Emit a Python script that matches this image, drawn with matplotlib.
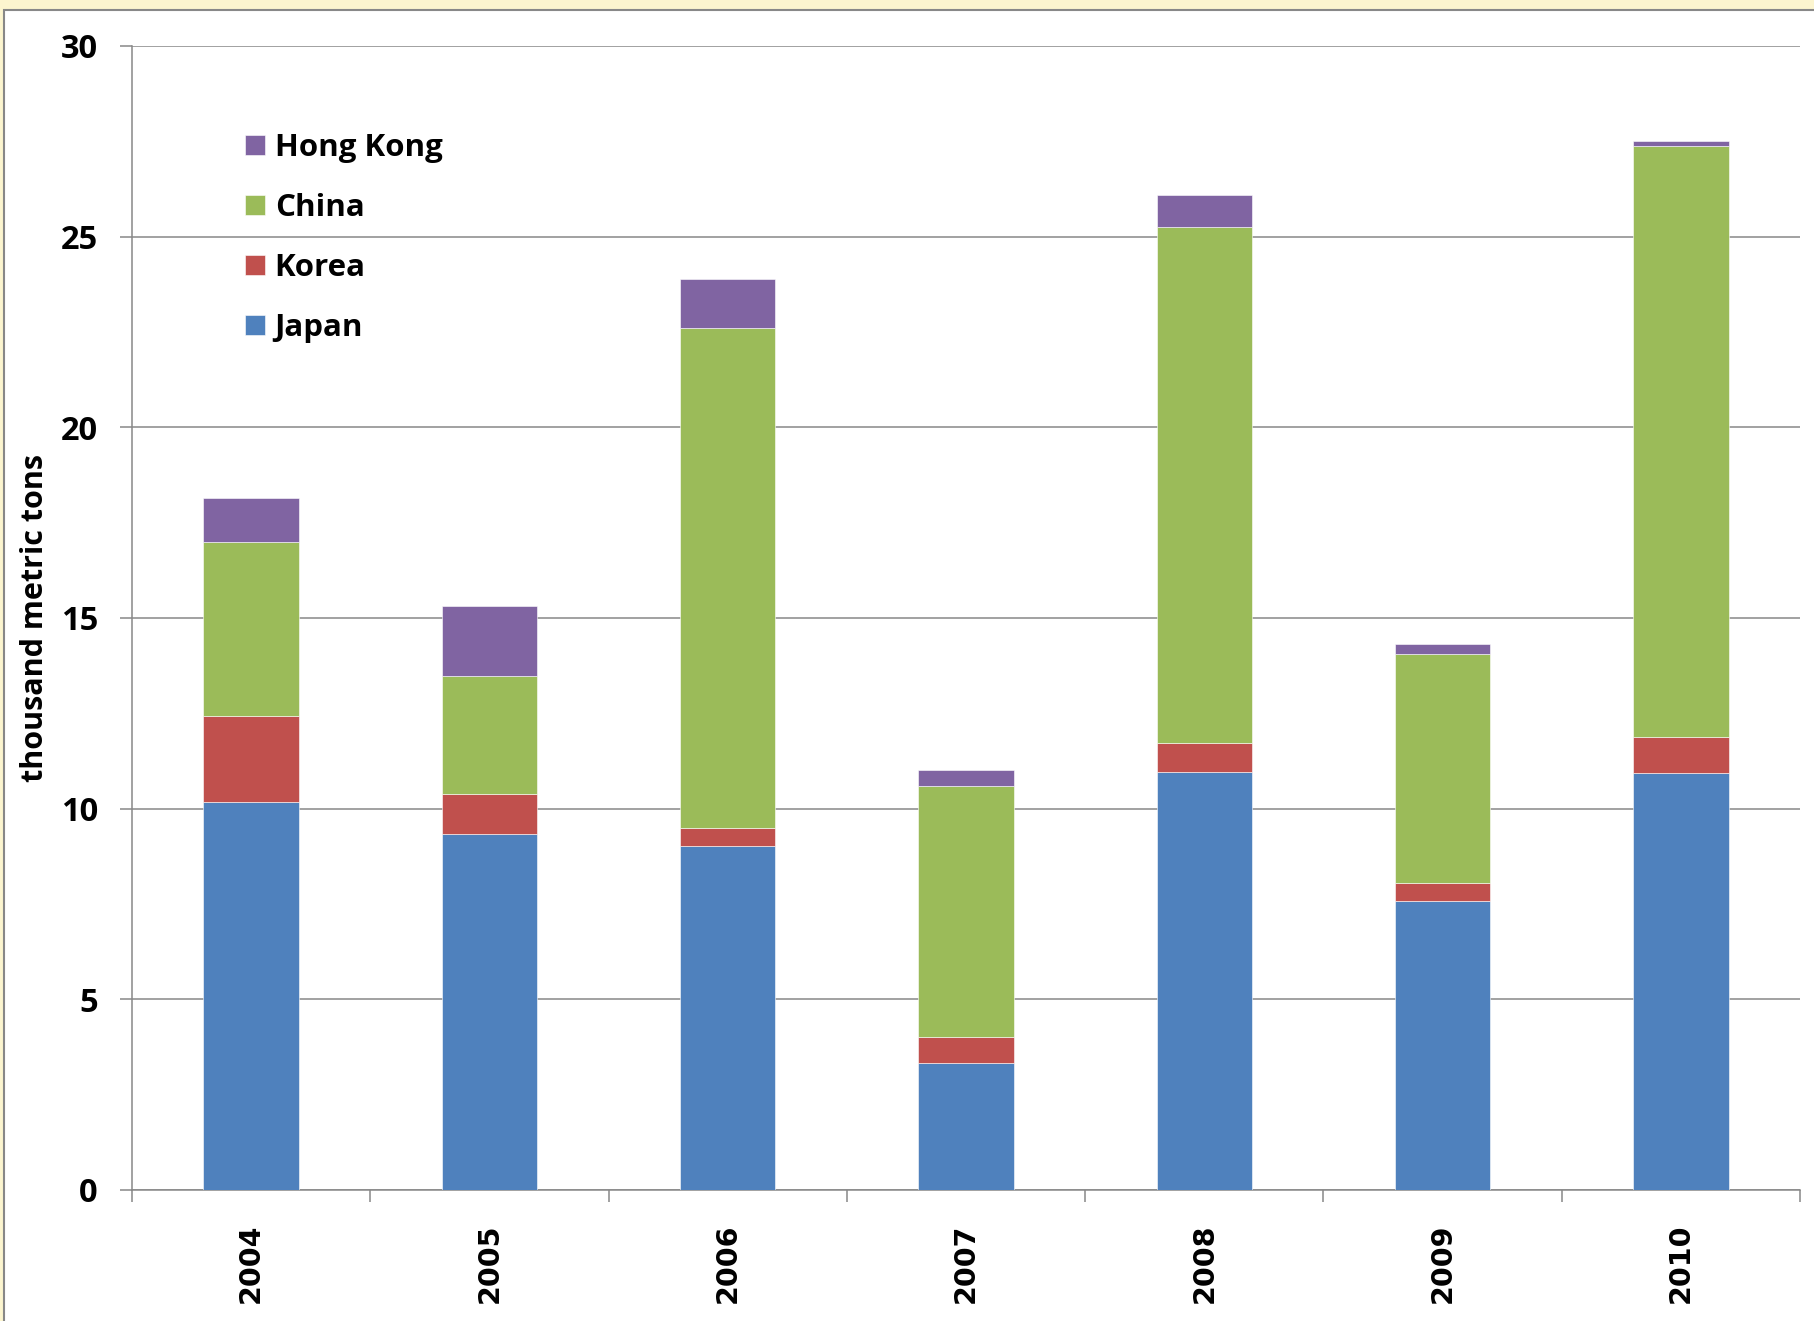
import numpy as np
import matplotlib
matplotlib.use('Agg')
import matplotlib.pyplot as plt
from matplotlib.patches import Rectangle

plt.rcParams['font.family'] = ['Open Sans', 'DejaVu Sans']

# data (thousand metric tons)
years = ['2004', '2005', '2006', '2007', '2008', '2009', '2010']
japan = [10.18, 9.34, 9.03, 3.32, 10.96, 7.57, 10.93]
korea = [2.26, 1.05, 0.46, 0.68, 0.75, 0.47, 0.94]
china = [4.54, 3.09, 13.11, 6.60, 13.55, 6.02, 15.50]
hong_kong = [1.16, 1.83, 1.30, 0.41, 0.84, 0.26, 0.15]

series = [('Japan', japan, '#4F81BD'),
          ('Korea', korea, '#C0504D'),
          ('China', china, '#9BBB59'),
          ('Hong Kong', hong_kong, '#8064A2')]

W, H = 1814, 1321
fig = plt.figure(figsize=(W / 100, H / 100), dpi=100)
fig.patch.set_facecolor('#FCF5CF')

# white chart panel with grey border
panel = Rectangle((4 / W, -0.01), 1.0, 1 - 10 / H + 0.01, transform=fig.transFigure,
                  facecolor='white', edgecolor='#888888', linewidth=1.5, zorder=-10)
fig.patches.append(panel)

ax = fig.add_axes([132 / W, 1 - 1190 / H, (1800 - 132) / W, (1190 - 46) / H])
ax.set_facecolor('none')

x = np.arange(len(years))
bottom = np.zeros(len(years))
handles = []
for name, vals, col in series:
    b = ax.bar(x, vals, 0.4, bottom=bottom, color=col, edgecolor='white',
               linewidth=0.4, label=name, zorder=3)
    handles.append(b)
    bottom += np.array(vals)

ax.set_xlim(-0.5, len(years) - 0.5)
ax.set_ylim(0, 30)
ax.set_yticks(range(0, 31, 5))
ax.yaxis.grid(True, color='#888888', linewidth=1.1, zorder=0)
ax.set_axisbelow(True)

for s in ['top', 'right']:
    ax.spines[s].set_visible(False)
for s in ['left', 'bottom']:
    ax.spines[s].set_color('#888888')
    ax.spines[s].set_linewidth(1.1)

ax.tick_params(axis='y', direction='out', length=8.6, width=1.1, color='#888888',
               pad=16, labelsize=23.5)
for lab in ax.get_yticklabels():
    lab.set_fontweight('bold')

# category labels at centres, tick marks at category boundaries
ax.set_xticks(x)
ax.set_xticklabels(years, rotation=90, fontsize=20.5, fontweight='bold',
                   family='DejaVu Sans')
ax.set_xticks(np.arange(-0.5, len(years)), minor=True)
ax.tick_params(axis='x', which='major', length=0, pad=24)
ax.tick_params(axis='x', which='minor', direction='out', length=8.6, width=1.1,
               color='#888888')

ax.set_ylabel('thousand metric tons', fontsize=22, fontweight='bold')
ax.yaxis.set_label_coords(-0.049, 0.5)

leg = ax.legend(handles[::-1], [s[0] for s in series][::-1],
                loc='upper left', bbox_to_anchor=(245 / W, 1 - 133 / H),
                bbox_transform=fig.transFigure, frameon=False, borderpad=0,
                borderaxespad=0, handlelength=0.64, handleheight=0.64,
                handletextpad=0.31, labelspacing=0.96,
                prop={'size': 22.5, 'weight': 'bold'})

fig.savefig('out.png', dpi=100, facecolor=fig.get_facecolor())
